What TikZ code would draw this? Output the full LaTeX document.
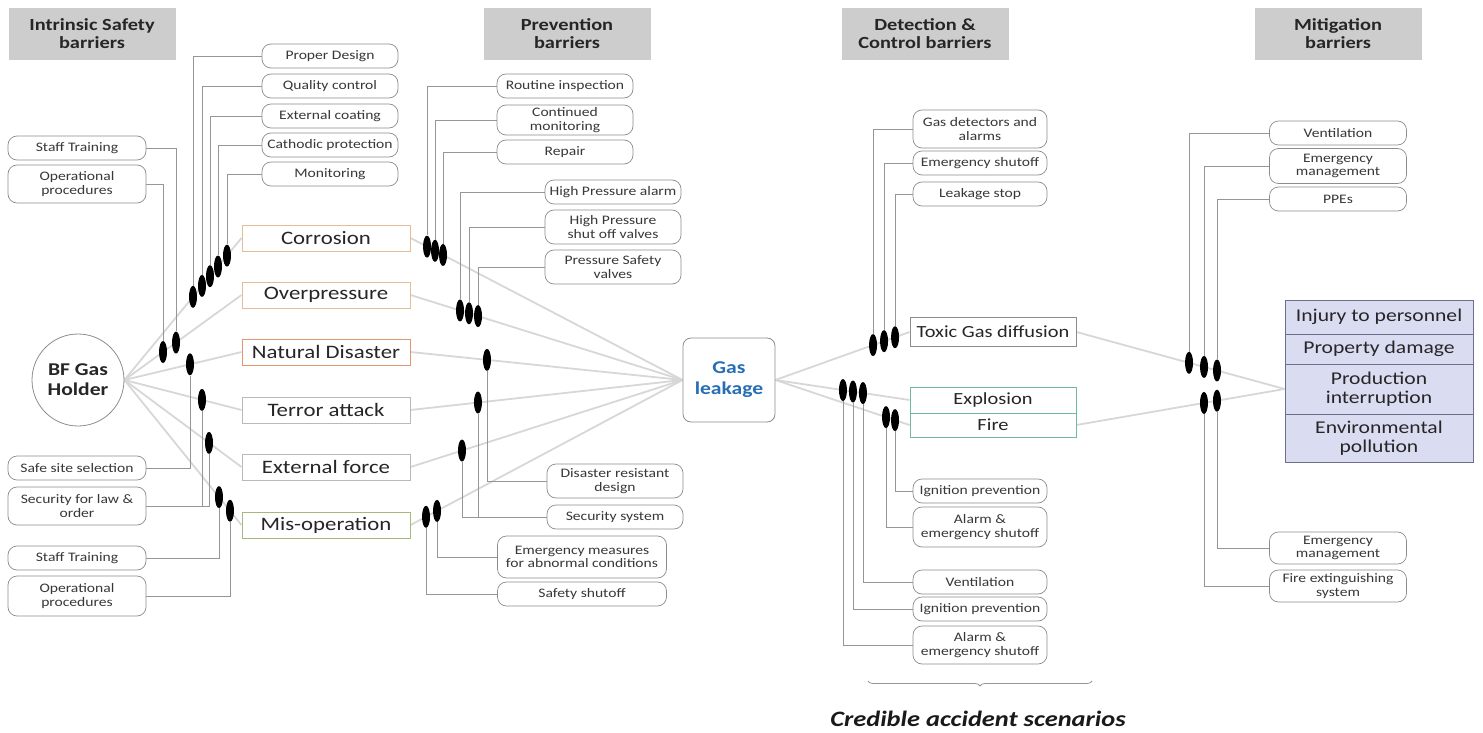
\documentclass[tikz,border=0pt]{standalone}
\usepackage{fontspec}
\setmainfont{Carlito}[FakeStretch=1.2]
\usetikzlibrary{shapes.geometric,decorations.pathreplacing,backgrounds}

\definecolor{hdrgray}{RGB}{205,205,205}
\definecolor{boxline}{RGB}{140,140,140}
\definecolor{linkgray}{RGB}{150,150,150}
\definecolor{flowgray}{RGB}{215,215,215}
\definecolor{thrtan}{RGB}{225,190,150}
\definecolor{thrrust}{RGB}{225,150,110}
\definecolor{throlive}{RGB}{165,185,125}
\definecolor{thrteal}{RGB}{110,185,160}
\definecolor{leakblue}{RGB}{40,110,180}
\definecolor{consfill}{RGB}{218,220,242}
\definecolor{consline}{RGB}{110,110,140}

\tikzset{
  hdr/.style={fill=hdrgray, minimum width=167pt, minimum height=52pt, align=center,
    font=\fontsize{17}{18}\selectfont\bfseries, text=black!85, inner sep=2pt},
  bb/.style={draw=boxline, line width=0.7pt, rounded corners=9pt, minimum width=136pt,
    minimum height=24pt, align=center, font=\fontsize{13}{13.5}\selectfont,
    text=black!78, inner sep=1pt, fill=white},
  thr/.style={draw=#1, line width=1pt, minimum width=168pt, minimum height=26pt,
    font=\fontsize{19}{21}\selectfont, text=black!85, inner sep=1pt, fill=white},
  mk/.style={ellipse, fill=black, minimum width=8pt, minimum height=22pt, inner sep=0pt},
  on/.style n args={3}{at={(intersection cs: first line={(#1)--(#2)}, second line={(#3,0)--(#3,1)})}},
  lnk/.style={draw=linkgray, line width=0.8pt},
  flow/.style={draw=flowgray, line width=1.8pt},
  cq/.style={draw=consline, fill=consfill, line width=0.8pt, minimum width=188pt,
    align=center, font=\fontsize{18}{19.5}\selectfont, text=black!85, inner sep=1pt},
}

\begin{document}
\begin{tikzpicture}[x=1pt,y=-1pt]
\useasboundingbox (0,0) rectangle (1483,733);

% column headers
\node[hdr] (h1) at (92,34)   {Intrinsic Safety\\barriers};
\node[hdr] (h2) at (567,34)  {Prevention\\barriers};
\node[hdr] (h3) at (925,34)  {Detection \&\\Control barriers};
\node[hdr] (h4) at (1338,34) {Mitigation\\barriers};

% hazard source
\node[circle, draw=boxline, line width=0.8pt, minimum size=92pt, align=center,
  font=\fontsize{18}{20}\selectfont\bfseries, text=black!85] (bf) at (78,380) {BF Gas\\Holder};

% intrinsic safety barriers
\node[bb] (pd)  at (330,56)  {Proper Design};
\node[bb] (qc)  at (330,86)  {Quality control};
\node[bb] (ec)  at (330,116) {External coating};
\node[bb] (cp)  at (330,145) {Cathodic protection};
\node[bb] (mon) at (330,174) {Monitoring};
\node[bb, minimum width=138pt] (st1)  at (77,148) {Staff Training};
\node[bb, minimum width=138pt, minimum height=38pt] (opr1) at (77,184) {Operational\\procedures};
\node[bb, minimum width=138pt] (ssel) at (77,468) {Safe site selection};
\node[bb, minimum width=138pt, minimum height=38pt] (sec)  at (77,506) {Security for law \&\\order};
\node[bb, minimum width=138pt] (st2)  at (77,558) {Staff Training};
\node[bb, minimum width=138pt, minimum height=40pt] (opr2) at (77,596) {Operational\\procedures};

% threats
\node[thr=thrtan]   (cor) at (326,238) {Corrosion};
\node[thr=thrtan]   (ovp) at (326,295) {Overpressure};
\node[thr=thrrust]  (nd)  at (326,352) {Natural Disaster};
\node[thr=gray!55]  (ta)  at (326,410) {Terror attack};
\node[thr=gray!55]  (ef)  at (326,467) {External force};
\node[thr=throlive] (mo)  at (326,525) {Mis-operation};

% prevention barriers
\node[bb] (ri)  at (565,86)  {Routine inspection};
\node[bb, minimum height=30pt] (cmn) at (565,120) {Continued\\monitoring};
\node[bb] (rep) at (565,152) {Repair};
\node[bb] (hpa) at (613,192) {High Pressure alarm};
\node[bb, minimum height=34pt] (hps) at (613,227) {High Pressure\\shut off valves};
\node[bb, minimum height=34pt] (psv) at (613,267) {Pressure Safety\\valves};
\node[bb, minimum height=34pt] (drd) at (615,481) {Disaster resistant\\design};
\node[bb] (ssy) at (615,517) {Security system};
\node[bb, minimum width=169pt, minimum height=42pt] (emc) at (582,557) {Emergency measures\\for abnormal conditions};
\node[bb, minimum width=169pt] (sso) at (582,594) {Safety shutoff};

% top event
\node[draw=boxline, line width=0.8pt, rounded corners=8pt, minimum width=92pt, minimum height=84pt,
  align=center, font=\fontsize{18}{21}\selectfont\bfseries, text=leakblue, fill=white] (gl) at (729,380) {Gas\\leakage};

% detection & control barriers
\node[bb, minimum width=134pt, minimum height=38pt] (gd) at (980,129) {Gas detectors and\\alarms};
\node[bb, minimum width=134pt] (esh) at (980,163) {Emergency shutoff};
\node[bb, minimum width=134pt] (lks) at (980,194) {Leakage stop};
\node[bb, minimum width=134pt] (ip1) at (980,491) {Ignition prevention};
\node[bb, minimum width=134pt, minimum height=40pt] (ae1) at (980,527) {Alarm \&\\emergency shutoff};
\node[bb, minimum width=134pt] (ven) at (980,582) {Ventilation};
\node[bb, minimum width=134pt] (ip2) at (980,609) {Ignition prevention};
\node[bb, minimum width=134pt, minimum height=38pt] (ae2) at (980,645) {Alarm \&\\emergency shutoff};

% accident scenarios
\node[draw=boxline, line width=0.9pt, minimum width=166pt, minimum height=29pt,
  font=\fontsize{17}{19}\selectfont, text=black!85, inner sep=1pt] (tox) at (993,332) {Toxic Gas diffusion};
\node[draw=thrteal, line width=0.9pt, minimum width=166pt, minimum height=26pt,
  font=\fontsize{17}{19}\selectfont, text=black!85, inner sep=1pt] (exp) at (993,400) {Explosion};
\node[draw=thrteal, line width=0.9pt, minimum width=166pt, minimum height=24pt,
  font=\fontsize{17}{19}\selectfont, text=black!85, inner sep=1pt] (fire) at (993,425) {Fire};

\coordinate (bl) at (868,681);
\coordinate (br) at (1092,681);
\draw[decorate, decoration={brace, amplitude=5pt, mirror}, draw=linkgray, line width=0.8pt] (bl) -- (br);
\node[font=\fontsize{22}{25}\selectfont\bfseries\itshape, text=black!90] (cas) at (978,719) {Credible accident scenarios};

% mitigation barriers
\node[bb, minimum width=137pt] (mv)   at (1338,133) {Ventilation};
\node[bb, minimum width=137pt, minimum height=35pt] (mem1) at (1338,166) {Emergency\\management};
\node[bb, minimum width=137pt] (ppe)  at (1338,199) {PPEs};
\node[bb, minimum width=137pt, minimum height=32pt] (mem2) at (1338,548) {Emergency\\management};
\node[bb, minimum width=137pt, minimum height=32pt] (fes)  at (1338,586) {Fire extinguishing\\system};

% consequences
\node[cq, minimum height=34pt] (inj) at (1379,317) {Injury to personnel};
\node[cq, minimum height=30pt] (pdm) at (1379,349) {Property damage};
\node[cq, minimum height=50pt] (pin) at (1379,389) {Production\\interruption};
\node[cq, minimum height=48pt] (env) at (1379,438) {Environmental\\pollution};

% barrier markers on the threat lines (left wing)
\node[mk, on={bf.east}{cor.west}{193}] (c1) {};
\node[mk, on={bf.east}{cor.west}{202}] (c2) {};
\node[mk, on={bf.east}{cor.west}{210}] (c3) {};
\node[mk, on={bf.east}{cor.west}{218}] (c4) {};
\node[mk, on={bf.east}{cor.west}{227}] (c5) {};
\node[mk, on={bf.east}{ovp.west}{163}] (o1) {};
\node[mk, on={bf.east}{ovp.west}{176}] (o2) {};
\node[mk, on={bf.east}{nd.west}{190}]  (n1) {};
\node[mk, on={bf.east}{ta.west}{202}]  (t1) {};
\node[mk, on={bf.east}{ef.west}{209}]  (e1) {};
\node[mk, on={bf.east}{mo.west}{219}]  (m1) {};
\node[mk, on={bf.east}{mo.west}{230}]  (m2) {};

\node[mk, on={cor.east}{gl.west}{427}] (p1) {};
\node[mk, on={cor.east}{gl.west}{435}] (p2) {};
\node[mk, on={cor.east}{gl.west}{443}] (p3) {};
\node[mk, on={ovp.east}{gl.west}{460}] (q1) {};
\node[mk, on={ovp.east}{gl.west}{469}] (q2) {};
\node[mk, on={ovp.east}{gl.west}{478}] (q3) {};
\node[mk, on={nd.east}{gl.west}{487}]  (r1) {};
\node[mk, on={ta.east}{gl.west}{478}]  (s1) {};
\node[mk, on={ef.east}{gl.west}{462}]  (u1) {};
\node[mk, on={mo.east}{gl.west}{426}]  (v1) {};
\node[mk, on={mo.east}{gl.west}{437}]  (v2) {};

% barrier markers (right wing)
\node[mk, on={gl.east}{tox.west}{873}]  (d1) {};
\node[mk, on={gl.east}{tox.west}{884}]  (d2) {};
\node[mk, on={gl.east}{tox.west}{895}]  (d3) {};
\node[mk, on={gl.east}{exp.west}{843}]  (x1) {};
\node[mk, on={gl.east}{exp.west}{853}]  (x2) {};
\node[mk, on={gl.east}{exp.west}{863}]  (x3) {};
\node[mk, on={gl.east}{fire.west}{886}] (f1) {};
\node[mk, on={gl.east}{fire.west}{895}] (f2) {};
\node[mk, on={tox.east}{pin.west}{1189}]  (k1) {};
\node[mk, on={tox.east}{pin.west}{1204}]  (k2) {};
\node[mk, on={tox.east}{pin.west}{1217}]  (k3) {};
\node[mk, on={fire.east}{pin.west}{1204}] (l1) {};
\node[mk, on={fire.east}{pin.west}{1217}] (l2) {};

\begin{scope}[on background layer]
  % event paths
  \foreach \t in {cor,ovp,nd,ta,ef,mo} {
    \draw[flow] (bf.east) -- (\t.west);
    \draw[flow] (\t.east) -- (gl.west);
  }
  \draw[flow] (gl.east) -- (tox.west);
  \draw[flow] (gl.east) -- (exp.west);
  \draw[flow] (gl.east) -- (fire.west);
  \draw[flow] (tox.east) -- (pin.west);
  \draw[flow] (fire.east) -- (pin.west);

  % barrier links
  \draw[lnk] (pd.west) -| (c1);
  \draw[lnk] (qc.west) -| (c2);
  \draw[lnk] (ec.west) -| (c3);
  \draw[lnk] (cp.west) -| (c4);
  \draw[lnk] (mon.west) -| (c5);
  \draw[lnk] (st1.east) -| (o2);
  \draw[lnk] (opr1.east) -| (o1);
  \draw[lnk] (ssel.east) -| (n1);
  \draw[lnk] (sec.east) -| (t1);
  \draw[lnk] (sec.east) -| (e1);
  \draw[lnk] (st2.east) -| (m1);
  \draw[lnk] (opr2.east) -| (m2);

  \draw[lnk] (ri.west) -| (p1);
  \draw[lnk] (cmn.west) -| (p2);
  \draw[lnk] (rep.west) -| (p3);
  \draw[lnk] (hpa.west) -| (q1);
  \draw[lnk] (hps.west) -| (q2);
  \draw[lnk] (psv.west) -| (q3);
  \draw[lnk] (drd.west) -| (r1);
  \draw[lnk] (ssy.west) -| (s1);
  \draw[lnk] (ssy.west) -| (u1);
  \draw[lnk] (emc.west) -| (v2);
  \draw[lnk] (sso.west) -| (v1);

  \draw[lnk] (gd.west) -| (d1);
  \draw[lnk] (esh.west) -| (d2);
  \draw[lnk] (lks.west) -| (d3);
  \draw[lnk] (ip1.west) -| (f2);
  \draw[lnk] (ae1.west) -| (f1);
  \draw[lnk] (ven.west) -| (x3);
  \draw[lnk] (ip2.west) -| (x2);
  \draw[lnk] (ae2.west) -| (x1);

  \draw[lnk] (mv.west) -| (k1);
  \draw[lnk] (mem1.west) -| (k2);
  \draw[lnk] (ppe.west) -| (k3);
  \draw[lnk] (mem2.west) -| (l2);
  \draw[lnk] (fes.west) -| (l1);
\end{scope}
\end{tikzpicture}
\end{document}
